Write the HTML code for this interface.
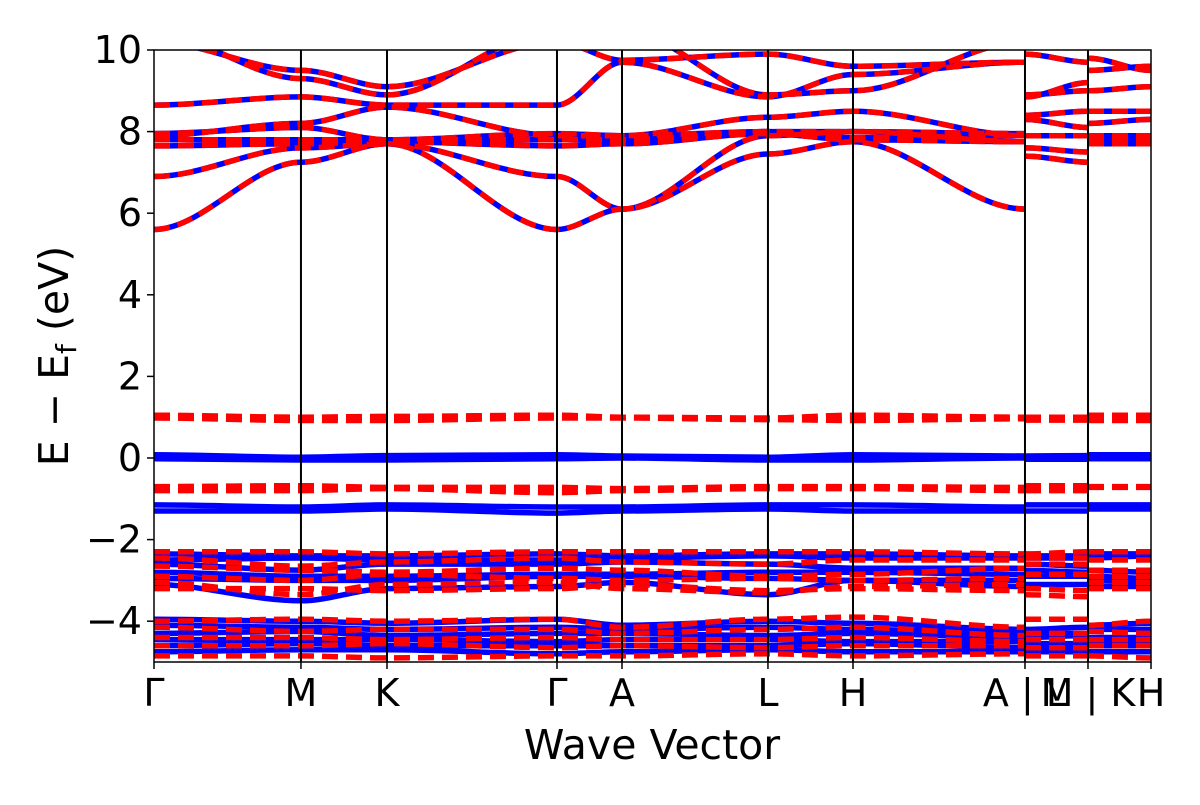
<!DOCTYPE html>
<html><head><meta charset="utf-8"><style>
body{margin:0;background:#fff}
svg text{font-family:"DejaVu Sans","Liberation Sans",sans-serif;fill:#000}
</style></head><body>
<svg id="chart" width="1200" height="800" viewBox="0 0 1200 800" xmlns="http://www.w3.org/2000/svg">
<g id="bands"></g>
<g id="axes"></g>
</svg>
<script>
// k-point labels and positions along the path (fractional path distance)
const kLabels = ["Γ","M","K","Γ","A","L","H","A|L","M|K","H"];
const kDist = [0,0.1474,0.2337,0.4042,0.4694,0.6158,0.7011,0.8736,0.9368,1.0];
const yTicks = [-4,-2,0,2,4,6,8,10];
// each band: values at [Γ,M,K,Γ,A,L,H,A | L,M | K,H]
const upBands = [
[5.6,7.25,7.7,5.6,6.1,7.45,7.75,6.1, 7.4,7.25, 7.7,7.7],
[6.9,7.6,7.7,6.9,6.1,7.9,8.0,7.75, 7.6,7.5, 7.75,7.75],
[7.65,7.7,7.75,7.65,7.7,7.95,7.8,7.75, 7.9,7.9, 7.8,7.8],
[7.8,7.8,7.8,7.8,7.8,8.0,7.85,7.9, 8.3,8.1, 7.9,7.9],
[7.9,8.2,8.6,7.9,7.9,8.35,8.5,7.9, 8.4,8.5, 8.2,8.3],
[7.95,8.1,7.8,7.95,7.9,8.0,8.0,7.95, 8.9,9.0, 8.5,8.5],
[8.65,8.85,8.65,8.65,9.7,8.85,9.4,9.7, 8.85,9.2, 9.0,9.1],
[10.2,9.5,9.1,10.2,9.75,9.9,9.6,9.7, 9.9,9.7, 9.5,9.6],
[10.4,9.3,8.9,10.5,10.5,8.9,9.0,10.2, 10.3,10.3, 9.8,9.5],
[0.08,0.02,0.06,0.08,0.05,0.02,0.08,0.05, 0.05,0.06, 0.08,0.08],
[-0.02,-0.05,-0.05,-0.02,0.0,-0.05,-0.05,0.0, -0.03,-0.03, -0.02,-0.02],
[-1.15,-1.2,-1.15,-1.2,-1.2,-1.15,-1.15,-1.2, -1.15,-1.15, -1.15,-1.15],
[-1.3,-1.3,-1.25,-1.35,-1.3,-1.25,-1.3,-1.3, -1.3,-1.3, -1.25,-1.25],
[-2.35,-2.4,-2.4,-2.35,-2.4,-2.35,-2.35,-2.4, -2.4,-2.4, -2.35,-2.35],
[-2.5,-2.45,-2.5,-2.5,-2.45,-2.4,-2.45,-2.45, -2.45,-2.45, -2.45,-2.4],
[-2.6,-2.75,-2.6,-2.6,-2.55,-2.6,-2.7,-2.7, -2.6,-2.65, -2.75,-2.8],
[-2.8,-2.9,-2.9,-2.85,-2.85,-2.8,-2.8,-2.85, -2.75,-2.8, -2.9,-2.95],
[-2.95,-3.0,-3.0,-2.9,-2.9,-2.95,-3.0,-3.0, -2.9,-2.9, -3.0,-3.05],
[-3.1,-3.5,-3.2,-3.15,-3.05,-3.35,-3.0,-3.15, -3.1,-3.1, -3.15,-3.15],
[-3.95,-4.0,-4.05,-3.95,-4.1,-4.0,-4.05,-4.2, -4.2,-4.15, -4.1,-4.05],
[-4.1,-4.15,-4.2,-4.15,-4.2,-4.15,-4.2,-4.3, -4.3,-4.3, -4.2,-4.2],
[-4.3,-4.25,-4.35,-4.3,-4.3,-4.35,-4.3,-4.4, -4.4,-4.35, -4.4,-4.4],
[-4.45,-4.45,-4.45,-4.5,-4.45,-4.45,-4.5,-4.5, -4.55,-4.55, -4.5,-4.5],
[-4.6,-4.55,-4.6,-4.6,-4.6,-4.6,-4.55,-4.65, -4.65,-4.65, -4.6,-4.6],
[-4.75,-4.7,-4.7,-4.8,-4.75,-4.7,-4.75,-4.75, -4.75,-4.75, -4.75,-4.75]
];
const downBands = [
[5.6,7.25,7.7,5.6,6.1,7.45,7.75,6.1, 7.4,7.25, 7.7,7.7],
[6.9,7.6,7.7,6.9,6.1,7.9,8.0,7.75, 7.6,7.5, 7.75,7.75],
[7.65,7.7,7.75,7.65,7.7,7.95,7.8,7.75, 7.9,7.9, 7.8,7.8],
[7.8,7.8,7.8,7.8,7.8,8.0,7.85,7.9, 8.3,8.1, 7.9,7.9],
[7.9,8.2,8.6,7.9,7.9,8.35,8.5,7.9, 8.4,8.5, 8.2,8.3],
[7.95,8.1,7.8,7.95,7.9,8.0,8.0,7.95, 8.9,9.0, 8.5,8.5],
[8.65,8.85,8.65,8.65,9.7,8.85,9.4,9.7, 8.85,9.2, 9.0,9.1],
[10.2,9.5,9.1,10.2,9.75,9.9,9.6,9.7, 9.9,9.7, 9.5,9.6],
[10.4,9.3,8.9,10.5,10.5,8.9,9.0,10.2, 10.3,10.3, 9.8,9.5],
[1.05,1.0,1.02,1.05,1.0,0.98,1.05,1.0, 1.0,1.0, 1.05,1.05],
[0.98,0.92,0.92,0.98,0.98,0.94,0.92,0.96, 0.93,0.93, 0.92,0.92],
[-0.7,-0.68,-0.72,-0.72,-0.75,-0.7,-0.7,-0.72, -0.68,-0.68, -0.7,-0.7],
[-0.8,-0.8,-0.75,-0.85,-0.8,-0.75,-0.75,-0.8, -0.8,-0.8, -0.72,-0.72],
[-2.3,-2.3,-2.35,-2.3,-2.3,-2.3,-2.3,-2.35, -2.35,-2.3, -2.3,-2.3],
[-2.45,-2.65,-2.55,-2.45,-2.55,-2.6,-2.5,-2.5, -2.45,-2.45, -2.5,-2.5],
[-2.65,-2.75,-2.8,-2.7,-2.75,-2.9,-2.85,-2.7, -2.6,-2.6, -2.75,-2.75],
[-2.9,-3.0,-2.85,-2.95,-3.0,-2.95,-3.0,-2.95, -2.85,-2.85, -2.9,-2.9],
[-3.05,-3.35,-3.1,-3.05,-3.2,-3.3,-3.15,-3.1, -3.35,-3.4, -3.05,-3.05],
[-3.2,-3.2,-3.25,-3.2,-3.1,-3.25,-3.2,-3.25, -3.2,-3.25, -3.2,-3.2],
[-4.0,-3.95,-4.0,-3.95,-4.15,-3.95,-3.9,-4.15, -3.95,-3.95, -4.1,-4.0],
[-4.15,-4.25,-4.2,-4.2,-4.3,-4.2,-4.15,-4.35, -4.3,-4.3, -4.25,-4.3],
[-4.4,-4.4,-4.45,-4.4,-4.45,-4.45,-4.4,-4.5, -4.45,-4.45, -4.45,-4.45],
[-4.6,-4.6,-4.55,-4.65,-4.6,-4.65,-4.6,-4.6, -4.65,-4.65, -4.6,-4.6],
[-4.85,-4.85,-4.9,-4.85,-4.85,-4.8,-4.85,-4.8, -4.85,-4.85, -4.85,-4.9]
];
const X0=154,X1=1151,Y0=50,Y1=662,EMIN=-5,EMAX=10;
const xs=d=>X0+d*(X1-X0);
const ys=e=>Y0+(EMAX-e)/(EMAX-EMIN)*(Y1-Y0);
const NS="http://www.w3.org/2000/svg";
function mk(t,a,p){const e=document.createElementNS(NS,t);for(const k in a)e.setAttribute(k,a[k]);p.appendChild(e);return e;}
const segs=[[[0,1,2,3,4,5,6,7],[0,1,2,3,4,5,6,7]],[[8,9],[7,8]],[[10,11],[8,9]]];
function pathFor(b){
 let d="";
 segs.forEach(([bi,ki])=>{
  const P=bi.map((v,j)=>[xs(kDist[ki[j]]),ys(b[v])]);
  d+=`M${P[0][0].toFixed(1)},${P[0][1].toFixed(1)}`;
  for(let i=0;i<P.length-1;i++){
   const p1=P[i],p2=P[i+1];
   const c1=[p1[0]+(p2[0]-p1[0])/3,p1[1]],c2=[p2[0]-(p2[0]-p1[0])/3,p2[1]];
   d+=`C${c1[0].toFixed(1)},${c1[1].toFixed(1)} ${c2[0].toFixed(1)},${c2[1].toFixed(1)} ${p2[0].toFixed(1)},${p2[1].toFixed(1)}`;
  }
 });
 return d;
}
const g=document.getElementById('bands');
const clip=mk('clipPath',{id:'pc'},mk('defs',{},g));
mk('rect',{x:X0,y:Y0,width:X1-X0,height:Y1-Y0},clip);
const bg=mk('g',{'clip-path':'url(#pc)'},g);
upBands.forEach(b=>{
 const p=mk('path',{d:pathFor(b),fill:'none',stroke:'#0000ff','stroke-width':5.5},bg);
 
 
});
downBands.forEach(b=>{
 const p=mk('path',{d:pathFor(b),fill:'none',stroke:'#ff0000','stroke-width':5.5,'stroke-dasharray':'16,8'},bg);
 
 
});
const ax=document.getElementById('axes');
kDist.forEach((d,i)=>{
 const x=xs(d);
 if(i>0&&i<kDist.length-1){const l=mk('line',{x1:x,x2:x,y1:Y0,y2:Y1,stroke:'#000','stroke-width':2},ax);
 }
 mk('line',{x1:x,x2:x,y1:Y1,y2:Y1+7,stroke:'#000','stroke-width':1.5},ax);
 const t=mk('text',{x:x,y:706,'font-size':38,'text-anchor':'middle'},ax);
 t.textContent=kLabels[i].replace('|',' | ');
 
 
});
yTicks.forEach(v=>{
 const y=ys(v);
 mk('line',{x1:X0-7,x2:X0,y1:y,y2:y,stroke:'#000','stroke-width':1.5},ax);
 const t=mk('text',{x:X0-12,y:y+13,'font-size':38,'text-anchor':'end'},ax);
 t.textContent=v<0?'\u2212'+(-v):String(v);
 
 
});
const fr=mk('rect',{x:X0,y:Y0,width:X1-X0,height:Y1-Y0,fill:'none',stroke:'#000','stroke-width':1.5},ax);

const xt=mk('text',{x:652,y:759,'font-size':41,'text-anchor':'middle'},ax);
xt.textContent='Wave Vector';

const yt=mk('text',{x:0,y:0,'font-size':41,'text-anchor':'middle',transform:'translate(68,356) rotate(-90)'},ax);
yt.innerHTML='E \u2212 E<tspan font-size="28" dy="8">f</tspan><tspan dy="-8"> (eV)</tspan>';

</script>
</body></html>
